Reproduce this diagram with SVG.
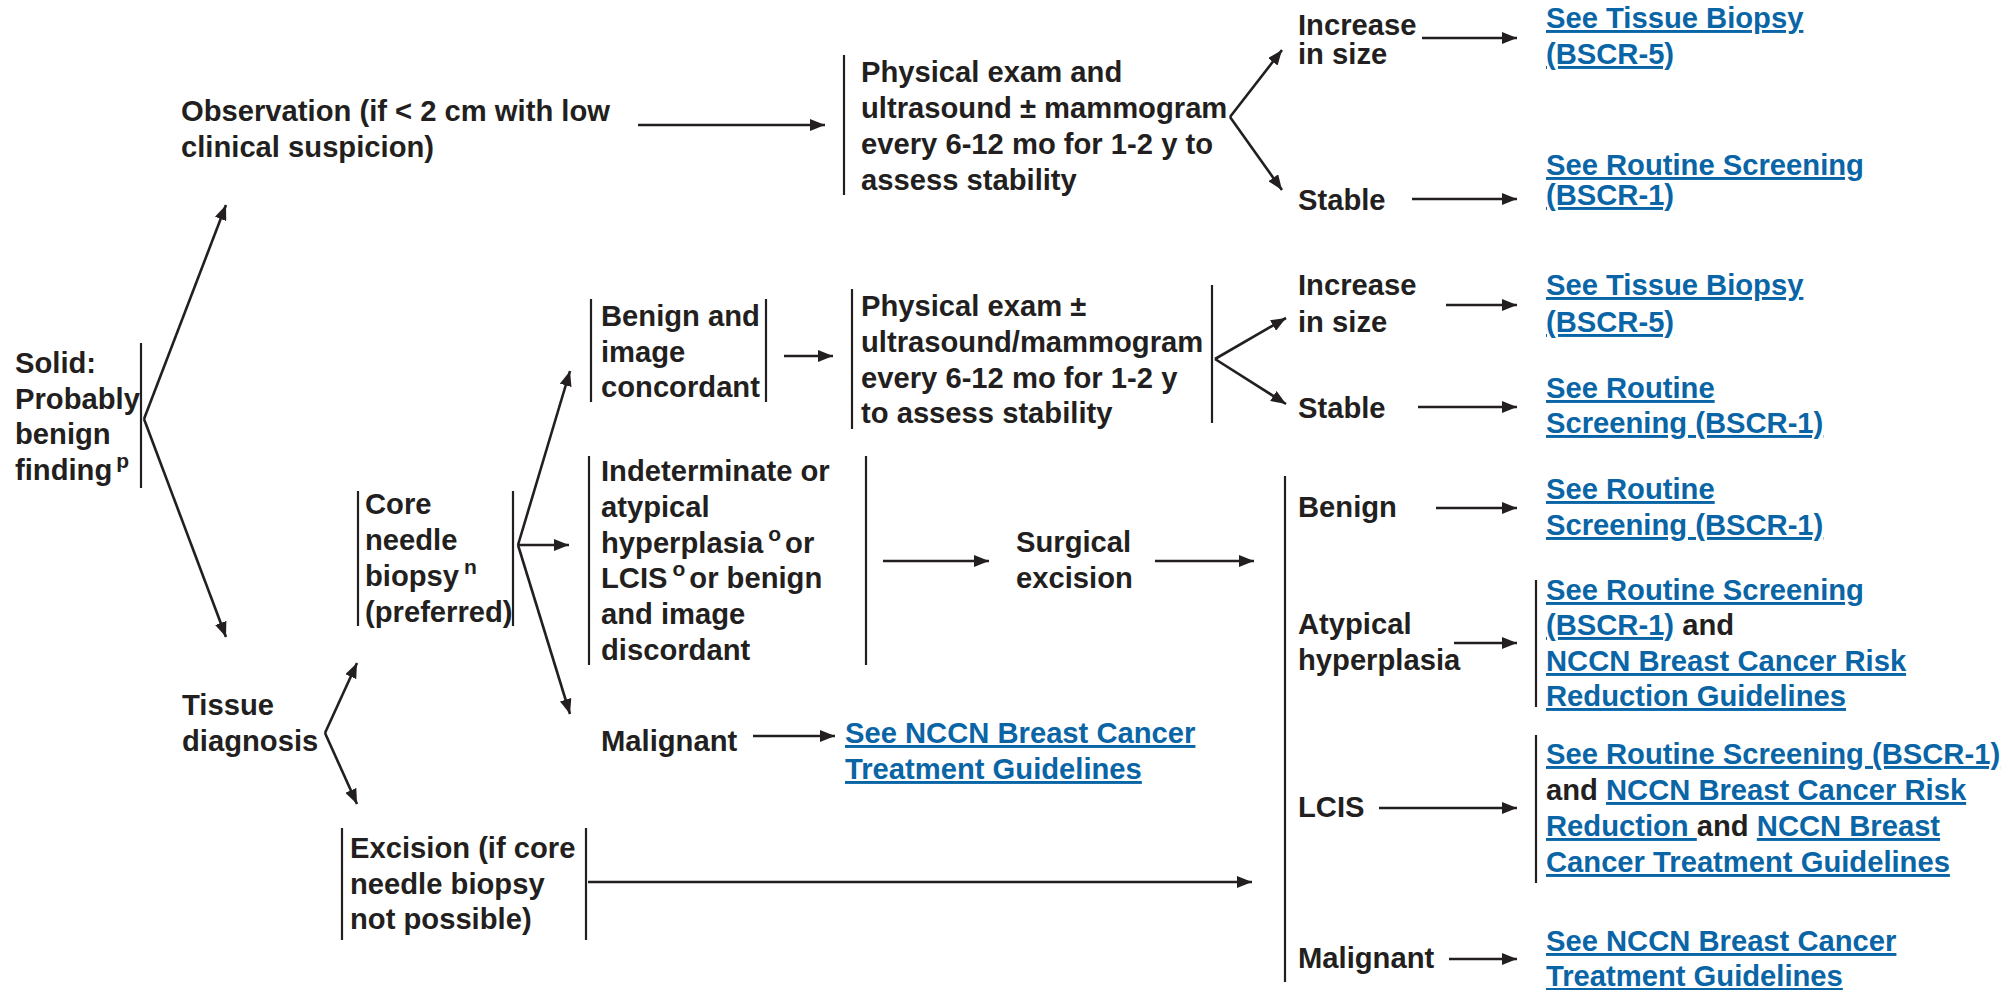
<svg xmlns="http://www.w3.org/2000/svg" width="2011" height="990" viewBox="0 0 2011 990">
<style>
text{font-family:"Liberation Sans",Arial,Helvetica,sans-serif;font-weight:bold;font-size:29.2px;fill:#231f20}
.lk{fill:#0a65a6;text-decoration:underline}
.sup{font-size:21px}
.bar{stroke:#231f20;stroke-width:2.2;fill:none}
.cn line{stroke:#231f20;stroke-width:2.6;marker-end:url(#ah)}
</style>
<defs>
<marker id="ah" markerUnits="userSpaceOnUse" markerWidth="16" markerHeight="12" refX="15" refY="6" orient="auto">
<path d="M0,0 L15,6 L0,12 z" fill="#231f20"/>
</marker>
</defs>
<rect width="2011" height="990" fill="#fff"/>

<g id="connectors" class="cn">
<line x1="144" y1="419" x2="226" y2="205"/>
<line x1="144" y1="419" x2="226" y2="637"/>
<line x1="638" y1="125" x2="825" y2="125"/>
<line x1="1230" y1="117" x2="1282" y2="50"/>
<line x1="1230" y1="117" x2="1282" y2="190"/>
<line x1="1422" y1="38" x2="1517" y2="38"/>
<line x1="1412" y1="199" x2="1517" y2="199"/>
<line x1="784" y1="356" x2="833" y2="356"/>
<line x1="1215" y1="359" x2="1286" y2="318"/>
<line x1="1215" y1="359" x2="1286" y2="404"/>
<line x1="1446" y1="305" x2="1517" y2="305"/>
<line x1="1418" y1="407" x2="1517" y2="407"/>
<line x1="518" y1="545" x2="570" y2="371"/>
<line x1="518" y1="545" x2="569" y2="545"/>
<line x1="518" y1="545" x2="570" y2="714"/>
<line x1="883" y1="561" x2="989" y2="561"/>
<line x1="1155" y1="561" x2="1254" y2="561"/>
<line x1="1436" y1="508" x2="1517" y2="508"/>
<line x1="1454" y1="643" x2="1517" y2="643"/>
<line x1="1379" y1="808" x2="1517" y2="808"/>
<line x1="1449" y1="959" x2="1517" y2="959"/>
<line x1="753" y1="736" x2="835" y2="736"/>
<line x1="325" y1="733" x2="357" y2="663"/>
<line x1="325" y1="733" x2="357" y2="804"/>
<line x1="588" y1="882" x2="1252" y2="882"/>
</g>

<g id="solid">
<line class="bar" x1="141" y1="343" x2="141" y2="488"/>
<text x="15" y="373">Solid:</text>
<text x="15" y="408.5">Probably</text>
<text x="15" y="444">benign</text>
<text x="15" y="479.5">finding<tspan class="sup" dx="4" dy="-12">p</tspan></text>
</g>

<g id="observation">
<text x="181" y="121">Observation (if &lt; 2 cm with low</text>
<text x="181" y="157">clinical suspicion)</text>
</g>

<g id="pe1">
<line class="bar" x1="844" y1="55" x2="844" y2="195"/>
<text x="861" y="82">Physical exam and</text>
<text x="861" y="118">ultrasound ± mammogram</text>
<text x="861" y="154">every 6-12 mo for 1-2 y to</text>
<text x="861" y="190">assess stability</text>
</g>

<g id="increase1">
<text x="1298" y="35">Increase</text>
<text x="1298" y="64">in size</text>
</g>
<g id="link1">
<text x="1546" y="28"><tspan class="lk">See Tissue Biopsy</tspan></text>
<text x="1546" y="64"><tspan class="lk">(BSCR-5)</tspan></text>
</g>
<g id="stable1">
<text x="1298" y="210">Stable</text>
</g>
<g id="link2">
<text x="1546" y="175"><tspan class="lk">See Routine Screening</tspan></text>
<text x="1546" y="205"><tspan class="lk">(BSCR-1)</tspan></text>
</g>

<g id="benign-concordant">
<line class="bar" x1="591" y1="299" x2="591" y2="402"/>
<line class="bar" x1="766" y1="299" x2="766" y2="402"/>
<text x="601" y="326">Benign and</text>
<text x="601" y="362">image</text>
<text x="601" y="397">concordant</text>
</g>

<g id="pe2">
<line class="bar" x1="852" y1="289" x2="852" y2="429"/>
<line class="bar" x1="1212" y1="285" x2="1212" y2="423"/>
<text x="861" y="316">Physical exam ±</text>
<text x="861" y="352">ultrasound/mammogram</text>
<text x="861" y="388">every 6-12 mo for 1-2 y</text>
<text x="861" y="423">to assess stability</text>
</g>

<g id="increase2">
<text x="1298" y="295">Increase</text>
<text x="1298" y="332">in size</text>
</g>
<g id="link3">
<text x="1546" y="295"><tspan class="lk">See Tissue Biopsy</tspan></text>
<text x="1546" y="332"><tspan class="lk">(BSCR-5)</tspan></text>
</g>
<g id="stable2">
<text x="1298" y="418">Stable</text>
</g>
<g id="link4">
<text x="1546" y="398"><tspan class="lk">See Routine</tspan></text>
<text x="1546" y="433"><tspan class="lk">Screening (BSCR-1)</tspan></text>
</g>

<g id="core">
<line class="bar" x1="358" y1="491" x2="358" y2="626"/>
<line class="bar" x1="513" y1="491" x2="513" y2="626"/>
<text x="365" y="514">Core</text>
<text x="365" y="550">needle</text>
<text x="365" y="586">biopsy<tspan class="sup" dx="5" dy="-12">n</tspan></text>
<text x="365" y="622">(preferred)</text>
</g>

<g id="indeterminate">
<line class="bar" x1="589" y1="456" x2="589" y2="665"/>
<line class="bar" x1="866" y1="456" x2="866" y2="665"/>
<text x="601" y="481">Indeterminate or</text>
<text x="601" y="517">atypical</text>
<text x="601" y="553">hyperplasia<tspan class="sup" dx="5" dy="-12">o</tspan><tspan dx="4" dy="12">or</tspan></text>
<text x="601" y="588">LCIS<tspan class="sup" dx="5" dy="-12">o</tspan><tspan dx="4" dy="12">or benign</tspan></text>
<text x="601" y="624">and image</text>
<text x="601" y="660">discordant</text>
</g>

<g id="surgical">
<text x="1016" y="552">Surgical</text>
<text x="1016" y="588">excision</text>
</g>

<g id="malignant-mid">
<text x="601" y="751">Malignant</text>
</g>
<g id="link-mid">
<text x="845" y="743"><tspan class="lk">See NCCN Breast Cancer</tspan></text>
<text x="845" y="779"><tspan class="lk">Treatment Guidelines</tspan></text>
</g>

<g id="tissue">
<text x="182" y="715">Tissue</text>
<text x="182" y="751">diagnosis</text>
</g>

<g id="excision">
<line class="bar" x1="342" y1="828" x2="342" y2="940"/>
<line class="bar" x1="586" y1="828" x2="586" y2="940"/>
<text x="350" y="858">Excision (if core</text>
<text x="350" y="894">needle biopsy</text>
<text x="350" y="929">not possible)</text>
</g>

<g id="results">
<line class="bar" x1="1285" y1="476" x2="1285" y2="982"/>
</g>
<g id="benign3">
<text x="1298" y="517">Benign</text>
</g>
<g id="link-benign">
<text x="1546" y="499"><tspan class="lk">See Routine</tspan></text>
<text x="1546" y="535"><tspan class="lk">Screening (BSCR-1)</tspan></text>
</g>
<g id="atypical">
<text x="1298" y="634">Atypical</text>
<text x="1298" y="670">hyperplasia</text>
</g>
<g id="link-atypical">
<line class="bar" x1="1536" y1="580" x2="1536" y2="707"/>
<text x="1546" y="600"><tspan class="lk">See Routine Screening</tspan></text>
<text x="1546" y="635"><tspan class="lk">(BSCR-1)</tspan> and</text>
<text x="1546" y="671"><tspan class="lk">NCCN Breast Cancer Risk</tspan></text>
<text x="1546" y="706"><tspan class="lk">Reduction Guidelines</tspan></text>
</g>
<g id="lcis">
<text x="1298" y="817">LCIS</text>
</g>
<g id="link-lcis">
<line class="bar" x1="1536" y1="735" x2="1536" y2="883"/>
<text x="1546" y="764"><tspan class="lk">See Routine Screening (BSCR-1)</tspan></text>
<text x="1546" y="800">and <tspan class="lk">NCCN Breast Cancer Risk</tspan></text>
<text x="1546" y="836"><tspan class="lk">Reduction </tspan>and <tspan class="lk">NCCN Breast</tspan></text>
<text x="1546" y="872"><tspan class="lk">Cancer Treatment Guidelines</tspan></text>
</g>
<g id="malignant3">
<text x="1298" y="968">Malignant</text>
</g>
<g id="link-malignant">
<text x="1546" y="951"><tspan class="lk">See NCCN Breast Cancer</tspan></text>
<text x="1546" y="986"><tspan class="lk">Treatment Guidelines</tspan></text>
</g>
</svg>
